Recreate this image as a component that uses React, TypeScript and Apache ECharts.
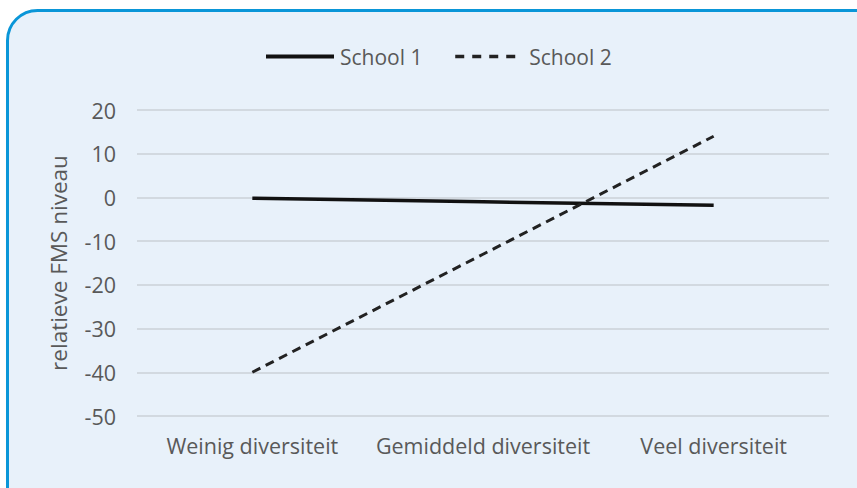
import React, { useEffect, useRef } from "react";
import * as echarts from "echarts";

const categories = ["Weinig diversiteit", "Gemiddeld diversiteit", "Veel diversiteit"];
const school1 = [-0.2, -1.0, -1.8];
const school2 = [-40, -13, 14];
const seriesNames = ["School 1", "School 2"];
const yName = "relatieve FMS niveau";

const FONT = "Open Sans";
const TEXT = "#595959";

export default function App() {
  const ref = useRef<HTMLDivElement>(null);
  useEffect(() => {
    document.body.style.margin = "0";
    const chart = echarts.init(ref.current!, undefined, { renderer: "svg" });
    chart.setOption({
      animation: false,
      backgroundColor: "#ffffff",
      graphic: [
        {
          type: "rect",
          z: -10,
          silent: true,
          shape: { x: 7.5, y: 10.5, width: 900, height: 600, r: 30 },
          style: { fill: "#e8f1fa", stroke: "#0a96d8", lineWidth: 3 },
        },
      ],
      legend: {
        top: 41,
        left: 259,
        itemWidth: 68,
        itemHeight: 14,
        itemGap: 31,
        itemStyle: { opacity: 0 },
        textStyle: { fontFamily: FONT, fontSize: 21, color: TEXT, padding: [0, 0, 0, 1] },
        data: [
          { name: seriesNames[0], lineStyle: { width: 4, color: "#111" } },
          { name: seriesNames[1], lineStyle: { width: 3.5, color: "#222", type: [9, 8] } },
        ],
      },
      grid: { left: 137, right: 28, top: 110, bottom: 72, containLabel: false },
      xAxis: {
        type: "category",
        data: categories,
        boundaryGap: true,
        axisLine: { show: false },
        axisTick: { show: false },
        axisLabel: { fontFamily: FONT, fontSize: 21.5, color: TEXT, margin: 18, interval: 0 },
        splitLine: { show: false },
      },
      yAxis: {
        type: "value",
        min: -50,
        max: 20,
        interval: 10,
        name: yName,
        nameLocation: "middle",
        nameGap: 67,
        nameRotate: 90,
        nameTextStyle: { fontFamily: FONT, fontSize: 22.5, color: TEXT },
        axisLine: { show: false },
        axisTick: { show: false },
        axisLabel: { fontFamily: FONT, fontSize: 21.5, color: TEXT, margin: 21 },
        splitLine: { lineStyle: { color: "#d2d9e0", width: 2 } },
      },
      series: [
        {
          name: seriesNames[0],
          type: "line",
          data: school1,
          symbol: "none",
          lineStyle: { width: 3.5, color: "#111" },
          itemStyle: { color: "#111" },
        },
        {
          name: seriesNames[1],
          type: "line",
          data: school2,
          symbol: "none",
          lineStyle: { width: 3, color: "#222", type: [9, 6] },
          itemStyle: { color: "#222" },
        },
      ],
    });
    return () => chart.dispose();
  }, []);
  return <div ref={ref} style={{ width: 857, height: 488, position: "absolute", left: 0, top: 0 }} />;
}
